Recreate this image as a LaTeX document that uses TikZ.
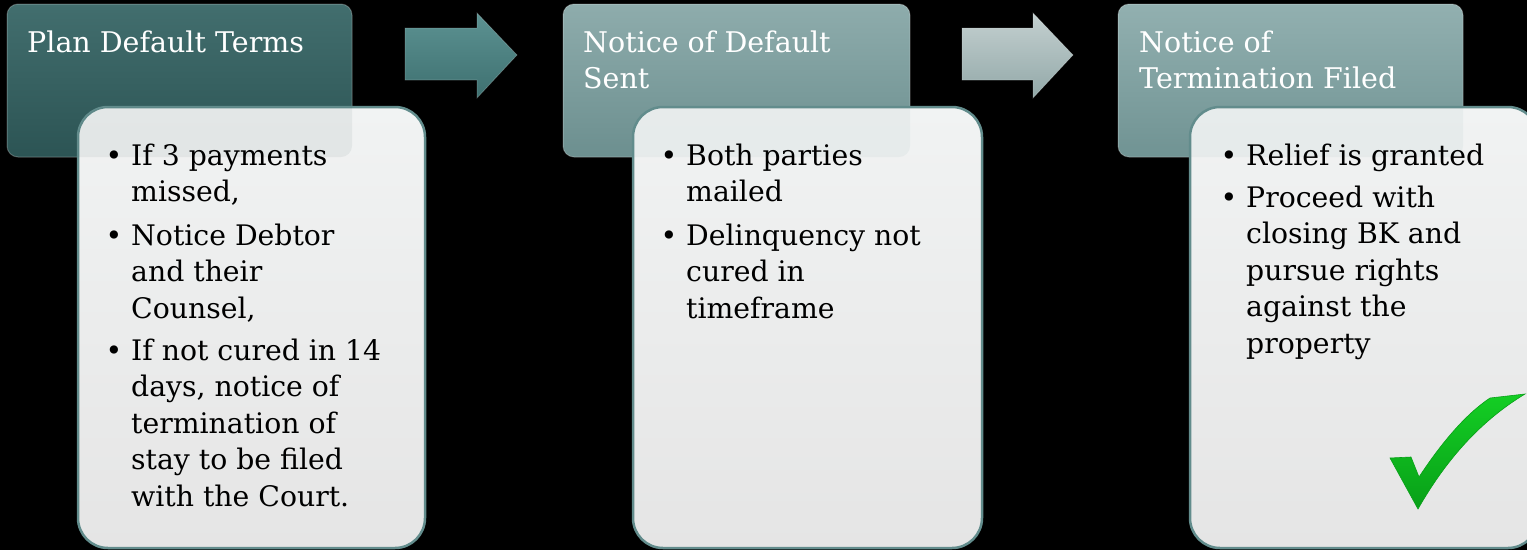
\documentclass[tikz,border=0pt]{standalone}
\usepackage{fontspec}
\setmainfont{DejaVu Serif}
\definecolor{hdA1}{RGB}{66,110,110}
\definecolor{hdA2}{RGB}{44,84,84}
\definecolor{hdB1}{RGB}{142,172,172}
\definecolor{hdB2}{RGB}{108,143,143}
\definecolor{hdC1}{RGB}{146,176,176}
\definecolor{hdC2}{RGB}{112,147,147}
\definecolor{arA1}{RGB}{92,146,146}
\definecolor{arA2}{RGB}{62,112,112}
\definecolor{arB1}{RGB}{196,208,208}
\definecolor{arB2}{RGB}{146,168,168}
\definecolor{cardtop}{RGB}{241,243,243}
\definecolor{cardbot}{RGB}{229,229,229}
\definecolor{cardline}{RGB}{98,140,140}
\definecolor{tickA}{RGB}{20,206,36}
\definecolor{tickB}{RGB}{8,160,24}
\tikzset{
  header/.style={rounded corners=11pt, draw=white, draw opacity=0.25, line width=1pt},
  card/.style={rounded corners=30pt, draw=cardline, line width=2.5pt,
    top color=cardtop, bottom color=cardbot},
  showthrough/.style={rounded corners=11pt, fill opacity=0.07},
  htext/.style={anchor=base west, inner sep=0pt, text=white,
    font=\fontsize{28.5}{36}\selectfont},
  btext/.style={anchor=base west, inner sep=0pt, text=black,
    font=\fontsize{28.3}{36.5}\selectfont},
  bul/.style={anchor=base, inner sep=0pt, text=black,
    font=\fontsize{28.3}{36.5}\selectfont},
  blockarrow/.style={draw=white, draw opacity=0.2, line width=0.8pt}
}
\begin{document}
\begin{tikzpicture}[x=1pt,y=-1pt]
\useasboundingbox (0,0) rectangle (1527,550);
\fill[black] (0,0) rectangle (1527,550);

% header panels
\shade[header, top color=hdA1, bottom color=hdA2] (7,4) rectangle (352,157);
\shade[header, top color=hdB1, bottom color=hdB2] (563,4) rectangle (910,157);
\shade[header, top color=hdC1, bottom color=hdC2] (1118,4) rectangle (1463,157);

% block arrows between the stages
\shade[blockarrow, top color=arA1, bottom color=arA2]
  (405,28) -- (477,28) -- (477,13) -- (517,55) -- (477,98) -- (477,80) -- (405,80) -- cycle;
\shade[blockarrow, top color=arB1, bottom color=arB2]
  (962,28) -- (1033,28) -- (1033,13) -- (1073,55) -- (1033,98) -- (1033,80) -- (962,80) -- cycle;

% detail cards, with a faint trace of the panel behind each one
\shade[card] (78,107) rectangle (425,548);
\shade[card] (633,107) rectangle (982,548);
\shade[card] (1190,107) rectangle (1538,548);
\begin{scope}
  \clip[rounded corners=30pt] (78,107) rectangle (425,548);
  \fill[showthrough, hdA2] (7,4) rectangle (352,157);
\end{scope}
\begin{scope}
  \clip[rounded corners=30pt] (633,107) rectangle (982,548);
  \fill[showthrough, hdB2] (563,4) rectangle (910,157);
\end{scope}
\begin{scope}
  \clip[rounded corners=30pt] (1190,107) rectangle (1538,548);
  \fill[showthrough, hdC2] (1118,4) rectangle (1463,157);
\end{scope}

% header titles
\node[htext] (t1) at (27,52) {Plan Default Terms};
\node[htext] (t2) at (583,52) {\parbox[t]{300pt}{Notice of Default\\Sent}};
\node[htext] (t3) at (1139,52) {\parbox[t]{300pt}{Notice of\\Termination Filed}};

% card 1
\node[bul] (b11) at (114,165) {\textbullet};
\node[btext] (i11) at (131,165) {\parbox[t]{290pt}{If 3 payments\\missed,}};
\node[bul] (b12) at (114,245) {\textbullet};
\node[btext] (i12) at (131,245) {\parbox[t]{290pt}{Notice Debtor\\and their\\Counsel,}};
\node[bul] (b13) at (114,360) {\textbullet};
\node[btext] (i13) at (131,360) {\parbox[t]{290pt}{If not cured in 14\\days, notice of\\termination of\\stay to be filed\\with the Court.}};

% card 2
\node[bul] (b21) at (669,165) {\textbullet};
\node[btext] (i21) at (686,165) {\parbox[t]{290pt}{Both parties\\mailed}};
\node[bul] (b22) at (669,245) {\textbullet};
\node[btext] (i22) at (686,245) {\parbox[t]{290pt}{Delinquency not\\cured in\\timeframe}};

% card 3
\node[bul] (b31) at (1229,165) {\textbullet};
\node[btext] (i31) at (1246,165) {Relief is granted};
\node[bul] (b32) at (1229,207) {\textbullet};
\node[btext] (i32) at (1246,207) {\parbox[t]{290pt}{Proceed with\\closing BK and\\pursue rights\\against the\\property}};

% check mark
\shade[top color=tickA, bottom color=tickB, draw=tickB, line width=0.6pt]
  (1390,458) -- (1411,457) -- (1419,477)
  .. controls (1442,442) and (1466,414) .. (1490,398)
  -- (1525,394)
  .. controls (1482,420) and (1447,458) .. (1418,509)
  -- cycle;
\end{tikzpicture}
\end{document}
